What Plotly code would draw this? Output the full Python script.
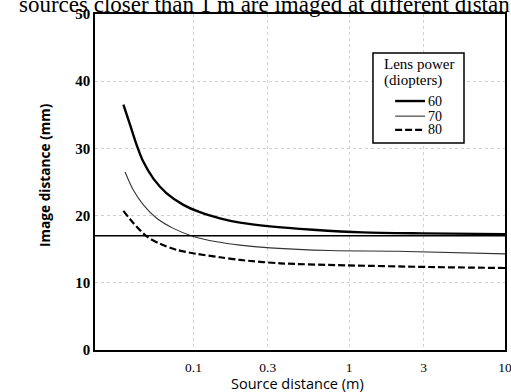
import plotly.graph_objects as go

# Source distance (m) and image distance (mm)
x60 = [0.0355, 0.0392, 0.0432, 0.0477, 0.0553, 0.0673, 0.0861, 0.110, 0.148, 0.199, 0.310, 0.585, 1.22, 2.93, 10]
y60 = [36.5, 33.5, 30.5, 28.0, 25.5, 23.3, 21.6, 20.5, 19.6, 18.95, 18.4, 17.9, 17.5, 17.35, 17.25]

x70 = [0.0364, 0.0411, 0.0477, 0.0581, 0.0743, 0.0998, 0.141, 0.199, 0.310, 0.752, 2.02, 10]
y70 = [26.5, 23.8, 21.6, 19.6, 18.1, 16.9, 16.1, 15.6, 15.2, 14.8, 14.7, 14.3]

x80 = [0.0355, 0.0411, 0.0501, 0.0610, 0.0780, 0.105, 0.148, 0.199, 0.359, 0.966, 3.29, 10]
y80 = [20.7, 18.9, 16.9, 15.8, 14.9, 14.3, 13.8, 13.4, 12.9, 12.6, 12.35, 12.2]

eye_length = 17.0  # horizontal reference line (mm)

series_names = ["60", "70", "80"]
legend_title = ["Lens power", "(diopters)"]

x_tickvals = [0.1, 0.3, 1, 3, 10]
x_ticktext = ["0.1", "0.3", "1", "3", "10"]
y_tickvals = [0, 10, 20, 30, 40, 50]

serif = "Liberation Serif, DejaVu Serif, serif"
sans = "Open Sans, Liberation Sans, sans-serif"

styles = [
    dict(color="black", width=2.4),
    dict(color="#333333", width=1.1),
    dict(color="black", width=2.2, dash="7px,3px"),
]

fig = go.Figure()
for xs, ys, nm, st in zip([x60, x70, x80], [y60, y70, y80], series_names, styles):
    fig.add_trace(go.Scatter(x=xs, y=ys, mode="lines", name=nm, showlegend=False,
                             line=dict(shape="spline", smoothing=0.8, **st)))

shapes = [
    # reference line across the full width
    dict(type="line", xref="paper", yref="y", x0=0, x1=1, y0=eye_length, y1=eye_length,
         line=dict(color="black", width=1.3), layer="above"),
    # hand-built legend box (paper coordinates)
    dict(type="rect", xref="paper", yref="paper", x0=0.678, x1=0.900, y0=0.616, y1=0.884,
         line=dict(color="black", width=1.5), fillcolor="white", layer="above"),
]
annos = []
for i, t in enumerate(legend_title):
    annos.append(dict(text=t, xref="paper", yref="paper", x=0.700, y=[0.851, 0.803][i],
                      xanchor="left", yanchor="middle", showarrow=False,
                      font=dict(family=serif, size=15, color="black")))
for i, (nm, st) in enumerate(zip(series_names, styles)):
    yy = [0.741, 0.696, 0.655][i]
    shapes.append(dict(type="line", xref="paper", yref="paper", x0=0.732, x1=0.805, y0=yy, y1=yy,
                       line=dict(st), layer="above"))
    annos.append(dict(text=nm, xref="paper", yref="paper", x=0.807, y=yy,
                      xanchor="left", yanchor="middle", showarrow=False,
                      font=dict(family=serif, size=14, color="black")))

# running text of the book page, cut by the top edge
annos.append(dict(
    text="sources closer than 1 m are imaged at different distan",
    xref="paper", yref="paper", x=(17 - 95) / 410, y=0.985,
    xanchor="left", yanchor="bottom", showarrow=False,
    font=dict(family=serif, size=23, color="black"),
))
# y-axis title
annos.append(dict(
    text="<b>Image distance (mm)</b>", textangle=-90,
    xref="paper", yref="paper", x=(45 - 95) / 410, y=0.521,
    xanchor="center", yanchor="middle", showarrow=False,
    font=dict(family=sans, size=13.7, color="black"),
))
# x-axis title
annos.append(dict(
    text="Source distance (m)",
    xref="paper", yref="paper", x=(297 - 95) / 410, y=(350 - 383) / 336,
    xanchor="center", yanchor="middle", showarrow=False,
    font=dict(family=sans, size=14.5, color="black"),
))

fig.update_layout(
    width=511, height=392,
    margin=dict(l=95, r=6, t=14, b=42),
    paper_bgcolor="white", plot_bgcolor="white",
    font=dict(family=serif, color="black"),
    showlegend=False,
    shapes=shapes,
    annotations=annos,
    xaxis=dict(
        type="log", range=[-1.632, 1.0], automargin=False, ticklabeloverflow="allow",
        tickvals=x_tickvals, ticktext=x_ticktext,
        tickfont=dict(family=serif, size=13.5, color="black"),
        showgrid=True, gridcolor="#d0d0d0", griddash="dot", gridwidth=1,
        showline=True, linecolor="black", linewidth=1.6, mirror=True,
        ticks="outside", ticklen=4, tickcolor="rgba(0,0,0,0)", zeroline=False,
    ),
    yaxis=dict(
        range=[0, 50], tickvals=y_tickvals, automargin=False, ticklabeloverflow="allow",
        tickfont=dict(family=serif, size=15, color="black", weight="bold"),
        showgrid=True, gridcolor="#d0d0d0", griddash="dot", gridwidth=1,
        showline=True, linecolor="black", linewidth=1.6, mirror=True,
        ticks="", zeroline=False,
    ),
)

fig.write_html("out.html", config={"displayModeBar": False},
               post_script="document.body.style.margin='0';")
